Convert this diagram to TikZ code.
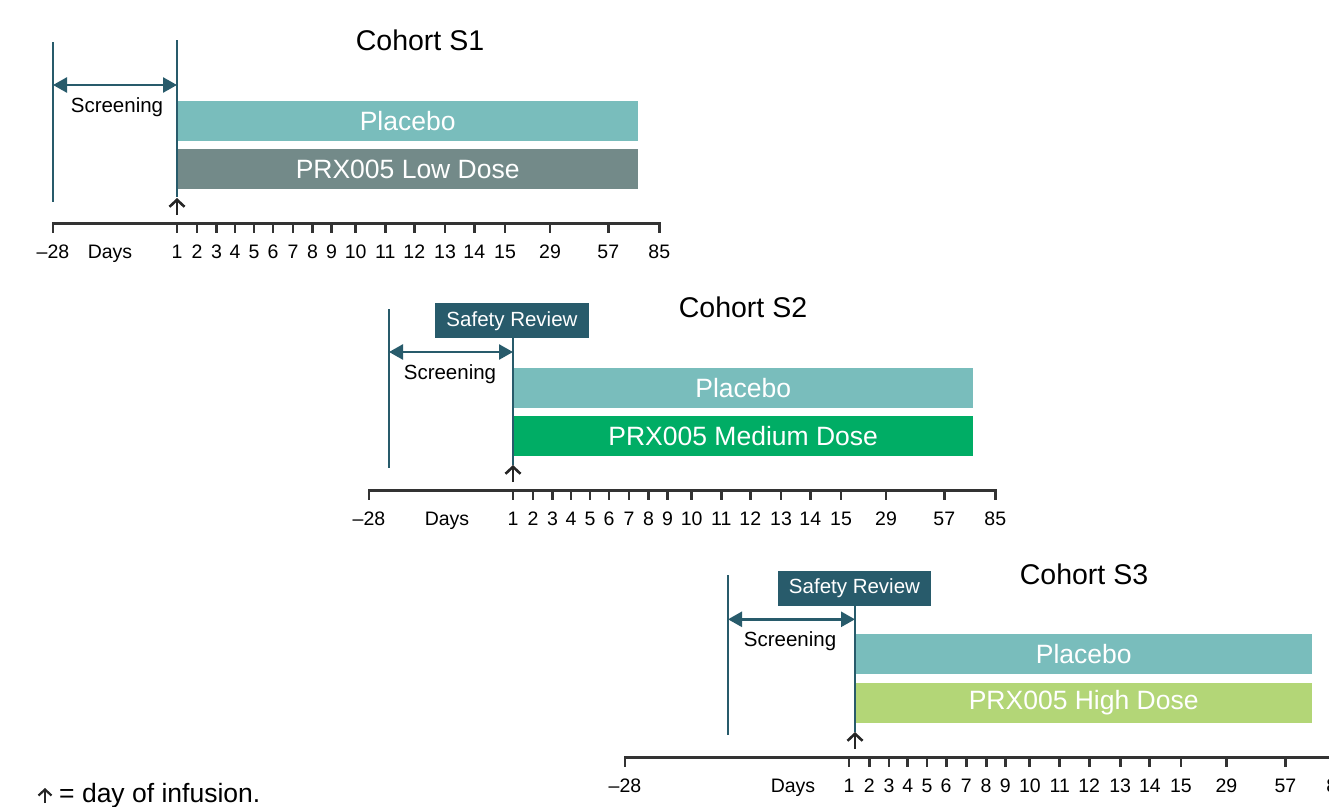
\documentclass[tikz,border=0pt]{standalone}
\usepackage{fontspec}
\setmainfont{Liberation Sans}
\usetikzlibrary{arrows.meta}
\definecolor{dteal}{HTML}{285B6B}
\definecolor{placebo}{HTML}{79BDBC}
\definecolor{lowdose}{HTML}{738A89}
\definecolor{meddose}{HTML}{00AD65}
\definecolor{highdose}{HTML}{B3D677}
\definecolor{axisc}{HTML}{333333}
\begin{document}
\begin{tikzpicture}[x=1pt,y=-1pt,
  vline/.style={draw=dteal,line width=2.6pt},
  scr/.style={draw=dteal,line width=2.6pt,{Triangle[length=14pt,width=15pt]}-{Triangle[length=14pt,width=15pt]}},
  bar/.style={minimum height=40pt,inner sep=0pt,anchor=west,text=white,font=\fontsize{26.5}{30}\selectfont},
  safety/.style={fill=dteal,text=white,inner sep=0pt,minimum height=35pt,font=\fontsize{20.5}{24}\selectfont},
  scrlab/.style={anchor=base,font=\fontsize{20.5}{24}\selectfont,inner sep=0pt},
  title/.style={anchor=base,font=\fontsize{28.5}{32}\selectfont,inner sep=0pt},
  axisline/.style={draw=axisc,line width=3pt},
  tick/.style={draw=axisc,line width=2.8pt},
  ticklab/.style={anchor=base,font=\fontsize{19.5}{22}\selectfont,inner sep=0pt},
  inf/.style={draw=black!85,line width=2.6pt,-{Straight Barb[length=7pt,width=15pt]}},
]
\useasboundingbox (0,0) rectangle (1329,806);
\clip (0,0) rectangle (1329,806);

% ---------------- Cohort S1 ----------------
\node[title] (t1) at (420,50) {Cohort S1};
\node[bar,fill=placebo,minimum width=461pt] (pl1) at (177,121) {Placebo};
\node[bar,fill=lowdose,minimum width=461pt] (ld1) at (177,169) {PRX005 Low Dose};
\coordinate (l1a) at (53,42); \coordinate (l1b) at (53,202);
\draw[vline] (l1a) -- (l1b);
\coordinate (d1a) at (177,40); \coordinate (d1b) at (177,197);
\draw[vline] (d1a) -- (d1b);
\coordinate (s1a) at (53,85); \coordinate (s1b) at (177,85);
\draw[scr] (s1a) -- (s1b);
\node[scrlab] (sl1) at (117,112.7) {Screening};
\coordinate (ax1a) at (53,223); \coordinate (ax1b) at (659,223);
\draw[axisline] (ax1a) -- (ax1b);
\draw[tick] (53,222) -- (53,233);
\node[ticklab] (m1) at (53,258) {–28};
\node[ticklab] (days1) at (110,258) {Days};
\foreach \o/\l in {0/1,20/2,39.5/3,58/4,77/5,96/6,116/7,135.5/8,154.5/9,178.7/10,208.3/11,237.3/12,268/13,297.3/14,328/15,373/29,431.3/57,482.3/85}{
  \draw[tick] (177+\o,222) -- (177+\o,233);
  \node[ticklab] (c1t\l) at (177+\o,258) {\l};
}
\coordinate (i1a) at (177,215); \coordinate (i1b) at (177,198);
\draw[inf] (i1a) -- (i1b);

% ---------------- Cohort S2 ----------------
\node[title] (t2) at (743,317) {Cohort S2};
\node[bar,fill=placebo,minimum width=460pt] (pl2) at (513,388) {Placebo};
\node[bar,fill=meddose,minimum width=460pt] (md2) at (513,436) {PRX005 Medium Dose};
\node[safety,minimum width=154pt] (sr2) at (512,320.7) {Safety Review};
\coordinate (l2a) at (389,309); \coordinate (l2b) at (389,468);
\draw[vline] (l2a) -- (l2b);
\coordinate (d2b) at (513,465);
\draw[vline] (sr2.south -| d2b) -- (d2b);
\coordinate (s2a) at (389,352); \coordinate (s2b) at (513,352);
\draw[scr] (s2a) -- (s2b);
\node[scrlab] (sl2) at (450,379.5) {Screening};
\coordinate (ax2a) at (369,490); \coordinate (ax2b) at (995,490);
\draw[axisline] (ax2a) -- (ax2b);
\draw[tick] (369,489) -- (369,500);
\node[ticklab] (m2) at (369,525) {–28};
\node[ticklab] (days2) at (447,525) {Days};
\foreach \o/\l in {0/1,20/2,39.5/3,58/4,77/5,96/6,116/7,135.5/8,154.5/9,178.7/10,208.3/11,237.3/12,268/13,297.3/14,328/15,373/29,431.3/57,482.3/85}{
  \draw[tick] (513+\o,489) -- (513+\o,500);
  \node[ticklab] (c2t\l) at (513+\o,525) {\l};
}
\coordinate (i2a) at (513,482); \coordinate (i2b) at (513,465);
\draw[inf] (i2a) -- (i2b);

% ---------------- Cohort S3 ----------------
\node[title] (t3) at (1084,584) {Cohort S3};
\node[bar,fill=placebo,minimum width=457pt] (pl3) at (855,654) {Placebo};
\node[bar,fill=highdose,minimum width=457pt] (hd3) at (855,703) {PRX005 High Dose};
\node[safety,minimum width=153pt] (sr3) at (854.5,588) {Safety Review};
\coordinate (l3a) at (728,575); \coordinate (l3b) at (728,735);
\draw[vline] (l3a) -- (l3b);
\coordinate (d3b) at (855,732);
\draw[vline] (sr3.south -| d3b) -- (d3b);
\coordinate (s3a) at (728,619.3); \coordinate (s3b) at (855,619.3);
\draw[scr] (s3a) -- (s3b);
\node[scrlab] (sl3) at (790,646) {Screening};
\coordinate (ax3a) at (625,757); \coordinate (ax3b) at (1345,757);
\draw[axisline] (ax3a) -- (ax3b);
\draw[tick] (625,756) -- (625,767);
\node[ticklab] (m3) at (625,792) {–28};
\node[ticklab] (days3) at (793,792) {Days};
\foreach \o/\l in {0/1,20/2,39.5/3,58/4,77/5,96/6,116/7,135.5/8,154.5/9,178.7/10,208.3/11,237.3/12,268/13,297.3/14,328/15,373/29,431.3/57,482.3/85}{
  \draw[tick] (849+1.012*\o,756) -- (849+1.012*\o,767);
  \node[ticklab] (c3t\l) at (849+1.012*\o,792) {\l};
}
\coordinate (i3a) at (855,749); \coordinate (i3b) at (855,732);
\draw[inf] (i3a) -- (i3b);

% ---------------- Legend ----------------
\coordinate (lga) at (45,803); \coordinate (lgb) at (45,788);
\draw[draw=black!85,line width=2.2pt,-{Straight Barb[length=6pt,width=13pt]}] (lga) -- (lgb);
\node[anchor=base west,inner sep=0pt,font=\fontsize{26.5}{30}\selectfont] (lg) at (59,802.5) {= day of infusion.};
\end{tikzpicture}
\end{document}
